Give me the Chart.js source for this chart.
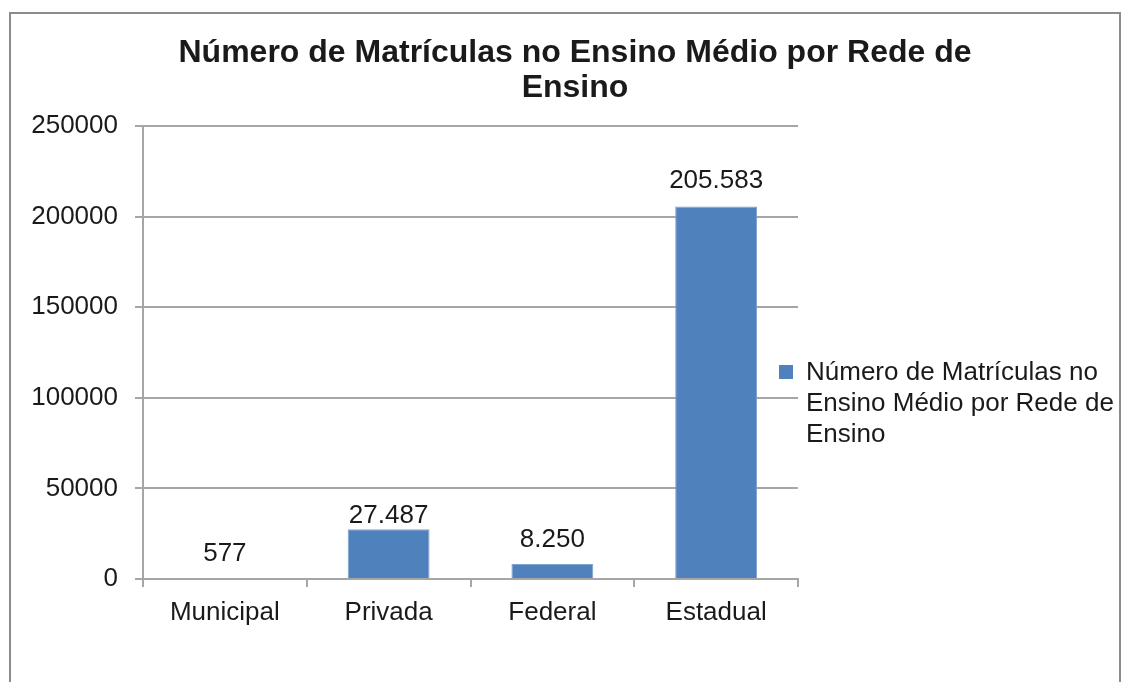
<!DOCTYPE html>
<html>
<head>
<meta charset="utf-8">
<script src="https://cdn.jsdelivr.net/npm/chart.js@4"></script>
<style>
  html, body { margin: 0; padding: 0; background: #fff; }
  #wrap { width: 1128px; height: 682px; position: relative; }
</style>
</head>
<body>
<div id="wrap"><canvas id="chart" width="1128" height="682"></canvas></div>
<script>
const categories = ['Municipal', 'Privada', 'Federal', 'Estadual'];
const matriculas = [577, 27487, 8250, 205583];
const seriesName = 'Número de Matrículas no Ensino Médio por Rede de Ensino';
const titleLines = ['Número de Matrículas no Ensino Médio por Rede de', 'Ensino'];
const yTicks = [0, 50000, 100000, 150000, 200000, 250000];

// gap between label baseline and bar top (Privada label sits closer in the original)
const labelGap = [17, 6, 17, 18];

const FONT = '"Liberation Sans", Arial, sans-serif';
const BAR = '#4f81bd';
const GRID = '#a6a6a6';
const TEXT = '#1a1a1a';

function fmt(v) {
  return String(v).replace(/\B(?=(\d{3})+(?!\d))/g, '.');
}

function wrap(ctx, text, maxW) {
  const words = text.split(' ');
  const lines = [];
  let cur = '';
  words.forEach(w => {
    const test = cur ? cur + ' ' + w : w;
    if (ctx.measureText(test).width > maxW && cur) {
      lines.push(cur);
      cur = w;
    } else {
      cur = test;
    }
  });
  if (cur) lines.push(cur);
  return lines;
}

const decorations = {
  id: 'decorations',
  beforeDraw(chart) {
    const ctx = chart.ctx;
    ctx.save();
    ctx.fillStyle = '#fff';
    ctx.fillRect(0, 0, chart.width, chart.height);
    ctx.strokeStyle = '#8c8c8c';
    ctx.lineWidth = 2;
    ctx.strokeRect(10, 13, 1110, 720);
    ctx.restore();
  },
  afterDraw(chart) {
    const ctx = chart.ctx;
    ctx.save();

    // title
    ctx.fillStyle = TEXT;
    ctx.font = 'bold 32px ' + FONT;
    ctx.textAlign = 'center';
    ctx.textBaseline = 'alphabetic';
    titleLines.forEach((t, i) => ctx.fillText(t, 575, 62 + i * 35));

    // value labels
    ctx.font = '26px ' + FONT;
    const meta = chart.getDatasetMeta(0);
    meta.data.forEach((bar, i) => {
      ctx.fillText(fmt(matriculas[i]), bar.x, bar.y - labelGap[i]);
    });

    // legend
    ctx.fillStyle = BAR;
    ctx.fillRect(779, 365, 14, 14);
    ctx.fillStyle = TEXT;
    ctx.textAlign = 'left';
    const lines = wrap(ctx, seriesName, 318);
    lines.forEach((l, i) => ctx.fillText(l, 806, 380 + i * 31));

    ctx.restore();
  }
};

new Chart(document.getElementById('chart'), {
  type: 'bar',
  data: {
    labels: categories,
    datasets: [{
      label: seriesName,
      data: matriculas,
      backgroundColor: BAR,
      borderColor: '#7ea2d1',
      borderWidth: 1,
      barPercentage: 0.5,
      categoryPercentage: 1
    }]
  },
  options: {
    responsive: false,
    animation: false,
    layout: { padding: { top: 126, right: 330, left: 0, bottom: 0 } },
    plugins: {
      legend: { display: false },
      title: { display: false },
      tooltip: { enabled: false }
    },
    scales: {
      x: {
        afterFit: (scale) => { scale.height = 103; },
        grid: { drawOnChartArea: false, drawTicks: true, tickLength: 8, color: GRID, lineWidth: 2 },
        border: { color: GRID, width: 2 },
        ticks: { color: TEXT, font: { family: FONT, size: 26 }, padding: 10 }
      },
      y: {
        min: 0,
        max: yTicks[yTicks.length - 1],
        afterFit: (scale) => { scale.width = 143; },
        afterBuildTicks: (scale) => { scale.ticks = yTicks.map(v => ({ value: v })); },
        grid: { color: GRID, lineWidth: 2, tickLength: 8 },
        border: { color: GRID, width: 2 },
        ticks: { color: TEXT, font: { family: FONT, size: 26 }, padding: 17, callback: (v) => String(v) }
      }
    }
  },
  plugins: [decorations]
});
</script>
</body>
</html>
